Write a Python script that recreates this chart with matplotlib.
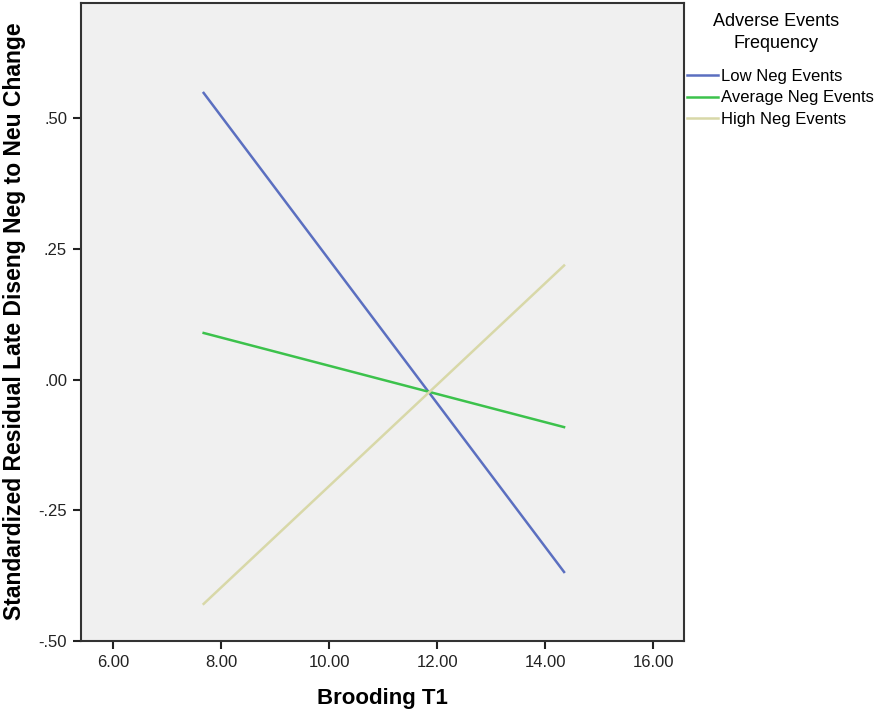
import numpy as np
import matplotlib
matplotlib.use("Agg")
import matplotlib.pyplot as plt
from matplotlib.ticker import FixedLocator, FixedFormatter

plt.rcParams["font.family"] = ["Liberation Sans", "DejaVu Sans"]

# data
brooding = [7.68, 14.35]
low_neg = [0.548, -0.368]
avg_neg = [0.089, -0.091]
high_neg = [-0.429, 0.218]

series_names = ["Low Neg Events", "Average Neg Events", "High Neg Events"]
series_colors = ["#5b6fc0", "#3cc24c", "#d8d8a8"]

xticks = [6, 8, 10, 12, 14, 16]
xticklabels = ["6.00", "8.00", "10.00", "12.00", "14.00", "16.00"]
yticks = [-0.5, -0.25, 0.0, 0.25, 0.5]
yticklabels = ["-.50", "-.25", ".00", ".25", ".50"]

fig = plt.figure(figsize=(8.75, 7.13), dpi=100)
ax = fig.add_axes([81 / 875, 72 / 713, (684 - 81) / 875, (641 - 3) / 713])
ax.set_facecolor("#f0f0f0")

for vals, name, col in zip([low_neg, avg_neg, high_neg], series_names, series_colors):
    ax.plot(brooding, vals, color=col, linewidth=1.8, label=name)

ax.set_xlim(5.41, 16.57)
ax.set_ylim(-0.5, 0.72)
ax.xaxis.set_major_locator(FixedLocator(xticks))
ax.xaxis.set_major_formatter(FixedFormatter(xticklabels))
ax.yaxis.set_major_locator(FixedLocator(yticks))
ax.yaxis.set_major_formatter(FixedFormatter(yticklabels))
ax.tick_params(axis="both", direction="out", length=6, width=1.5, labelsize=12,
               colors="#222222", pad=4)

for s in ax.spines.values():
    s.set_linewidth(1.5)
    s.set_color("#333333")

ax.set_xlabel("Brooding T1", fontsize=16, fontweight="bold", labelpad=13)
ax.set_ylabel("Standardized Residual Late Diseng Neg to Neu Change",
              fontsize=16.5, fontweight="bold")
ax.yaxis.set_label_coords((15 - 81) / 603, (641 - 321) / 638)
ax.yaxis.label.set_va("center")

# legend title as two centred lines, entries below
fig.text(776 / 875, 1 - 22 / 713, "Adverse Events", fontsize=13,
         ha="center", va="center")
fig.text(776 / 875, 1 - 44 / 713, "Frequency", fontsize=13,
         ha="center", va="center")

handles, labels = ax.get_legend_handles_labels()
leg = fig.legend(handles, labels, loc="upper left",
                 bbox_to_anchor=(687 / 875, 1 - 69 / 713),
                 frameon=False, fontsize=12,
                 handlelength=1.85, handletextpad=0.18, labelspacing=0.38,
                 borderaxespad=0, borderpad=0)

fig.savefig("out.png", dpi=100)
